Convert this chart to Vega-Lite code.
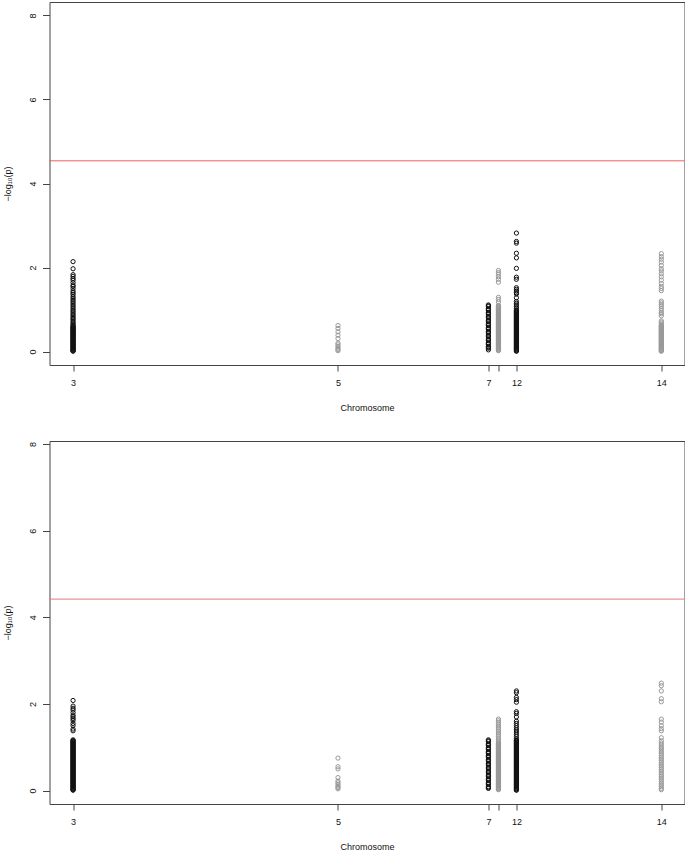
{
  "$schema": "https://vega.github.io/schema/vega-lite/v6.json",
  "padding": {"left": 2.5, "top": 1, "right": 0, "bottom": 0},
  "background": "white",
  "config": {
    "font": "Liberation Sans",
    "view": {"stroke": "#444444", "strokeWidth": 1},
    "axis": {
      "grid": false,
      "domain": false,
      "tickColor": "#444444",
      "tickSize": 7,
      "labelFont": "Liberation Sans",
      "labelFontSize": 9,
      "labelColor": "#111111",
      "titleFont": "Liberation Sans",
      "titleFontSize": 9,
      "titleFontWeight": "normal",
      "titleColor": "#111111"
    }
  },
  "datasets": {
    "chroms": [
      {"chr": "3", "pos": 37.1},
      {"chr": "5", "pos": 454.3},
      {"chr": "7", "pos": 691.2},
      {"chr": "10", "pos": 707.0},
      {"chr": "12", "pos": 735.3},
      {"chr": "14", "pos": 963.5}
    ],
    "top": [
      {"chr":"3","logp":2.14},{"chr":"3","logp":1.97},{"chr":"3","logp":1.83},{"chr":"3","logp":1.79},{"chr":"3","logp":1.74},{"chr":"3","logp":1.70},{"chr":"3","logp":1.64},{"chr":"3","logp":1.58},{"chr":"3","logp":1.55},{"chr":"3","logp":1.50},{"chr":"3","logp":1.44},{"chr":"3","logp":1.40},{"chr":"3","logp":1.36},{"chr":"3","logp":1.31},{"chr":"3","logp":1.27},{"chr":"3","logp":1.23},{"chr":"3","logp":1.19},{"chr":"3","logp":1.15},{"chr":"3","logp":1.11},{"chr":"3","logp":1.07},{"chr":"3","logp":1.03},{"chr":"3","logp":0.99},{"chr":"3","logp":0.96},{"chr":"3","logp":0.92},{"chr":"3","logp":0.88},{"chr":"3","logp":0.85},{"chr":"3","logp":0.81},{"chr":"3","logp":0.78},{"chr":"3","logp":0.75},{"chr":"3","logp":0.71},{"chr":"3","logp":0.68},{"chr":"3","logp":0.65},{"chr":"3","logp":0.62},{"chr":"3","logp":0.60},{"chr":"3","logp":0.57},{"chr":"3","logp":0.54},{"chr":"3","logp":0.51},{"chr":"3","logp":0.48},{"chr":"3","logp":0.45},{"chr":"3","logp":0.42},{"chr":"3","logp":0.39},{"chr":"3","logp":0.36},{"chr":"3","logp":0.33},{"chr":"3","logp":0.30},{"chr":"3","logp":0.27},{"chr":"3","logp":0.24},{"chr":"3","logp":0.21},{"chr":"3","logp":0.18},{"chr":"3","logp":0.15},{"chr":"3","logp":0.12},{"chr":"3","logp":0.09},{"chr":"3","logp":0.06},{"chr":"3","logp":0.03},{"chr":"3","logp":0.01},
      {"chr":"3","logp":0.015},{"chr":"3","logp":0.045},{"chr":"3","logp":0.075},{"chr":"3","logp":0.105},{"chr":"3","logp":0.135},{"chr":"3","logp":0.165},{"chr":"3","logp":0.195},{"chr":"3","logp":0.225},{"chr":"3","logp":0.255},{"chr":"3","logp":0.285},{"chr":"3","logp":0.315},{"chr":"3","logp":0.345},{"chr":"3","logp":0.375},{"chr":"3","logp":0.405},{"chr":"3","logp":0.435},{"chr":"3","logp":0.465},{"chr":"3","logp":0.495},{"chr":"3","logp":0.525},{"chr":"3","logp":0.555},{"chr":"3","logp":0.585},
      {"chr":"5","logp":0.62},{"chr":"5","logp":0.55},{"chr":"5","logp":0.47},{"chr":"5","logp":0.39},{"chr":"5","logp":0.31},{"chr":"5","logp":0.20},{"chr":"5","logp":0.16},{"chr":"5","logp":0.12},{"chr":"5","logp":0.08},{"chr":"5","logp":0.05},{"chr":"5","logp":0.02},
      {"chr":"7","logp":1.11},{"chr":"7","logp":1.07},{"chr":"7","logp":1.02},{"chr":"7","logp":0.98},{"chr":"7","logp":0.93},{"chr":"7","logp":0.89},{"chr":"7","logp":0.84},{"chr":"7","logp":0.80},{"chr":"7","logp":0.75},{"chr":"7","logp":0.71},{"chr":"7","logp":0.66},{"chr":"7","logp":0.62},{"chr":"7","logp":0.57},{"chr":"7","logp":0.53},{"chr":"7","logp":0.48},{"chr":"7","logp":0.44},{"chr":"7","logp":0.39},{"chr":"7","logp":0.35},{"chr":"7","logp":0.30},{"chr":"7","logp":0.26},{"chr":"7","logp":0.21},{"chr":"7","logp":0.17},{"chr":"7","logp":0.12},{"chr":"7","logp":0.08},{"chr":"7","logp":0.04},
      {"chr":"7","logp":0.10},{"chr":"7","logp":0.19},{"chr":"7","logp":0.28},{"chr":"7","logp":0.37},{"chr":"7","logp":0.46},{"chr":"7","logp":0.55},{"chr":"7","logp":0.64},{"chr":"7","logp":0.73},{"chr":"7","logp":0.82},{"chr":"7","logp":0.91},{"chr":"7","logp":1.00},{"chr":"7","logp":1.09},
      {"chr":"10","logp":1.93},{"chr":"10","logp":1.88},{"chr":"10","logp":1.84},{"chr":"10","logp":1.78},{"chr":"10","logp":1.72},{"chr":"10","logp":1.65},{"chr":"10","logp":1.29},{"chr":"10","logp":1.24},{"chr":"10","logp":1.18},{"chr":"10","logp":1.10},{"chr":"10","logp":1.07},{"chr":"10","logp":1.04},{"chr":"10","logp":1.01},{"chr":"10","logp":0.98},{"chr":"10","logp":0.95},{"chr":"10","logp":0.92},{"chr":"10","logp":0.89},{"chr":"10","logp":0.86},{"chr":"10","logp":0.83},{"chr":"10","logp":0.80},{"chr":"10","logp":0.77},{"chr":"10","logp":0.74},{"chr":"10","logp":0.71},{"chr":"10","logp":0.68},{"chr":"10","logp":0.65},{"chr":"10","logp":0.62},{"chr":"10","logp":0.59},{"chr":"10","logp":0.56},{"chr":"10","logp":0.53},{"chr":"10","logp":0.50},{"chr":"10","logp":0.47},{"chr":"10","logp":0.44},{"chr":"10","logp":0.41},{"chr":"10","logp":0.38},{"chr":"10","logp":0.35},{"chr":"10","logp":0.32},{"chr":"10","logp":0.29},{"chr":"10","logp":0.26},{"chr":"10","logp":0.23},{"chr":"10","logp":0.20},{"chr":"10","logp":0.17},{"chr":"10","logp":0.14},{"chr":"10","logp":0.11},{"chr":"10","logp":0.08},{"chr":"10","logp":0.05},{"chr":"10","logp":0.02},
      {"chr":"10","logp":0.035},{"chr":"10","logp":0.065},{"chr":"10","logp":0.095},{"chr":"10","logp":0.125},{"chr":"10","logp":0.155},{"chr":"10","logp":0.185},{"chr":"10","logp":0.215},{"chr":"10","logp":0.245},{"chr":"10","logp":0.275},{"chr":"10","logp":0.305},{"chr":"10","logp":0.335},{"chr":"10","logp":0.365},{"chr":"10","logp":0.395},{"chr":"10","logp":0.425},{"chr":"10","logp":0.455},{"chr":"10","logp":0.485},{"chr":"10","logp":0.515},{"chr":"10","logp":0.545},{"chr":"10","logp":0.575},{"chr":"10","logp":0.605},{"chr":"10","logp":0.635},{"chr":"10","logp":0.665},{"chr":"10","logp":0.695},{"chr":"10","logp":0.725},{"chr":"10","logp":0.755},{"chr":"10","logp":0.785},{"chr":"10","logp":0.815},{"chr":"10","logp":0.845},{"chr":"10","logp":0.875},{"chr":"10","logp":0.905},{"chr":"10","logp":0.935},{"chr":"10","logp":0.965},{"chr":"10","logp":0.995},{"chr":"10","logp":1.025},{"chr":"10","logp":1.055},{"chr":"10","logp":1.085},
      {"chr":"12","logp":2.82},{"chr":"12","logp":2.62},{"chr":"12","logp":2.58},{"chr":"12","logp":2.34},{"chr":"12","logp":2.23},{"chr":"12","logp":1.98},{"chr":"12","logp":1.77},{"chr":"12","logp":1.72},{"chr":"12","logp":1.52},{"chr":"12","logp":1.48},{"chr":"12","logp":1.44},{"chr":"12","logp":1.40},{"chr":"12","logp":1.37},{"chr":"12","logp":1.28},{"chr":"12","logp":1.19},{"chr":"12","logp":1.15},{"chr":"12","logp":1.11},{"chr":"12","logp":1.07},{"chr":"12","logp":1.03},{"chr":"12","logp":0.99},{"chr":"12","logp":0.96},{"chr":"12","logp":0.93},{"chr":"12","logp":0.90},{"chr":"12","logp":0.87},{"chr":"12","logp":0.84},{"chr":"12","logp":0.81},{"chr":"12","logp":0.78},{"chr":"12","logp":0.75},{"chr":"12","logp":0.72},{"chr":"12","logp":0.69},{"chr":"12","logp":0.66},{"chr":"12","logp":0.63},{"chr":"12","logp":0.60},{"chr":"12","logp":0.57},{"chr":"12","logp":0.54},{"chr":"12","logp":0.51},{"chr":"12","logp":0.48},{"chr":"12","logp":0.45},{"chr":"12","logp":0.42},{"chr":"12","logp":0.39},{"chr":"12","logp":0.36},{"chr":"12","logp":0.33},{"chr":"12","logp":0.30},{"chr":"12","logp":0.27},{"chr":"12","logp":0.24},{"chr":"12","logp":0.21},{"chr":"12","logp":0.18},{"chr":"12","logp":0.15},{"chr":"12","logp":0.12},{"chr":"12","logp":0.09},{"chr":"12","logp":0.06},{"chr":"12","logp":0.03},{"chr":"12","logp":0.01},
      {"chr":"12","logp":0.015},{"chr":"12","logp":0.045},{"chr":"12","logp":0.075},{"chr":"12","logp":0.105},{"chr":"12","logp":0.135},{"chr":"12","logp":0.165},{"chr":"12","logp":0.195},{"chr":"12","logp":0.225},{"chr":"12","logp":0.255},{"chr":"12","logp":0.285},{"chr":"12","logp":0.315},{"chr":"12","logp":0.345},{"chr":"12","logp":0.375},{"chr":"12","logp":0.405},{"chr":"12","logp":0.435},{"chr":"12","logp":0.465},{"chr":"12","logp":0.495},{"chr":"12","logp":0.525},{"chr":"12","logp":0.555},{"chr":"12","logp":0.585},{"chr":"12","logp":0.615},{"chr":"12","logp":0.645},{"chr":"12","logp":0.675},{"chr":"12","logp":0.705},{"chr":"12","logp":0.735},{"chr":"12","logp":0.765},{"chr":"12","logp":0.795},{"chr":"12","logp":0.825},{"chr":"12","logp":0.855},{"chr":"12","logp":0.885},{"chr":"12","logp":0.915},{"chr":"12","logp":0.945},{"chr":"12","logp":0.975},
      {"chr":"14","logp":2.33},{"chr":"14","logp":2.26},{"chr":"14","logp":2.20},{"chr":"14","logp":2.13},{"chr":"14","logp":2.05},{"chr":"14","logp":1.97},{"chr":"14","logp":1.92},{"chr":"14","logp":1.85},{"chr":"14","logp":1.78},{"chr":"14","logp":1.70},{"chr":"14","logp":1.62},{"chr":"14","logp":1.55},{"chr":"14","logp":1.50},{"chr":"14","logp":1.45},{"chr":"14","logp":1.20},{"chr":"14","logp":1.16},{"chr":"14","logp":1.12},{"chr":"14","logp":1.08},{"chr":"14","logp":1.03},{"chr":"14","logp":0.98},{"chr":"14","logp":0.93},{"chr":"14","logp":0.90},{"chr":"14","logp":0.85},{"chr":"14","logp":0.73},{"chr":"14","logp":0.70},{"chr":"14","logp":0.66},{"chr":"14","logp":0.63},{"chr":"14","logp":0.60},{"chr":"14","logp":0.57},{"chr":"14","logp":0.54},{"chr":"14","logp":0.51},{"chr":"14","logp":0.48},{"chr":"14","logp":0.45},{"chr":"14","logp":0.42},{"chr":"14","logp":0.39},{"chr":"14","logp":0.36},{"chr":"14","logp":0.33},{"chr":"14","logp":0.30},{"chr":"14","logp":0.27},{"chr":"14","logp":0.24},{"chr":"14","logp":0.21},{"chr":"14","logp":0.18},{"chr":"14","logp":0.15},{"chr":"14","logp":0.12},{"chr":"14","logp":0.09},{"chr":"14","logp":0.06},{"chr":"14","logp":0.03},{"chr":"14","logp":0.01},
      {"chr":"14","logp":0.015},{"chr":"14","logp":0.045},{"chr":"14","logp":0.075},{"chr":"14","logp":0.105},{"chr":"14","logp":0.135},{"chr":"14","logp":0.165},{"chr":"14","logp":0.195},{"chr":"14","logp":0.225},{"chr":"14","logp":0.255},{"chr":"14","logp":0.285},{"chr":"14","logp":0.315},{"chr":"14","logp":0.345},{"chr":"14","logp":0.375},{"chr":"14","logp":0.405},{"chr":"14","logp":0.435},{"chr":"14","logp":0.465},{"chr":"14","logp":0.495},{"chr":"14","logp":0.525},{"chr":"14","logp":0.555},{"chr":"14","logp":0.585},{"chr":"14","logp":0.615}
    ],
    "bottom": [
      {"chr":"3","logp":2.08},{"chr":"3","logp":1.95},{"chr":"3","logp":1.90},{"chr":"3","logp":1.86},{"chr":"3","logp":1.80},{"chr":"3","logp":1.74},{"chr":"3","logp":1.70},{"chr":"3","logp":1.66},{"chr":"3","logp":1.62},{"chr":"3","logp":1.55},{"chr":"3","logp":1.50},{"chr":"3","logp":1.42},{"chr":"3","logp":1.38},{"chr":"3","logp":1.17},{"chr":"3","logp":1.14},{"chr":"3","logp":1.11},{"chr":"3","logp":1.08},{"chr":"3","logp":1.05},{"chr":"3","logp":1.02},{"chr":"3","logp":0.99},{"chr":"3","logp":0.96},{"chr":"3","logp":0.93},{"chr":"3","logp":0.90},{"chr":"3","logp":0.87},{"chr":"3","logp":0.84},{"chr":"3","logp":0.81},{"chr":"3","logp":0.78},{"chr":"3","logp":0.75},{"chr":"3","logp":0.72},{"chr":"3","logp":0.69},{"chr":"3","logp":0.66},{"chr":"3","logp":0.63},{"chr":"3","logp":0.60},{"chr":"3","logp":0.57},{"chr":"3","logp":0.54},{"chr":"3","logp":0.51},{"chr":"3","logp":0.48},{"chr":"3","logp":0.45},{"chr":"3","logp":0.42},{"chr":"3","logp":0.39},{"chr":"3","logp":0.36},{"chr":"3","logp":0.33},{"chr":"3","logp":0.30},{"chr":"3","logp":0.27},{"chr":"3","logp":0.24},{"chr":"3","logp":0.21},{"chr":"3","logp":0.18},{"chr":"3","logp":0.15},{"chr":"3","logp":0.12},{"chr":"3","logp":0.09},{"chr":"3","logp":0.06},{"chr":"3","logp":0.03},{"chr":"3","logp":0.01},
      {"chr":"3","logp":0.015},{"chr":"3","logp":0.045},{"chr":"3","logp":0.075},{"chr":"3","logp":0.105},{"chr":"3","logp":0.135},{"chr":"3","logp":0.165},{"chr":"3","logp":0.195},{"chr":"3","logp":0.225},{"chr":"3","logp":0.255},{"chr":"3","logp":0.285},{"chr":"3","logp":0.315},{"chr":"3","logp":0.345},{"chr":"3","logp":0.375},{"chr":"3","logp":0.405},{"chr":"3","logp":0.435},{"chr":"3","logp":0.465},{"chr":"3","logp":0.495},{"chr":"3","logp":0.525},{"chr":"3","logp":0.555},{"chr":"3","logp":0.585},{"chr":"3","logp":0.615},{"chr":"3","logp":0.645},{"chr":"3","logp":0.675},{"chr":"3","logp":0.705},{"chr":"3","logp":0.735},{"chr":"3","logp":0.765},{"chr":"3","logp":0.795},{"chr":"3","logp":0.825},{"chr":"3","logp":0.855},{"chr":"3","logp":0.885},{"chr":"3","logp":0.915},{"chr":"3","logp":0.945},{"chr":"3","logp":0.975},{"chr":"3","logp":1.005},{"chr":"3","logp":1.035},{"chr":"3","logp":1.065},{"chr":"3","logp":1.095},{"chr":"3","logp":1.125},{"chr":"3","logp":1.155},
      {"chr":"5","logp":0.75},{"chr":"5","logp":0.55},{"chr":"5","logp":0.50},{"chr":"5","logp":0.30},{"chr":"5","logp":0.22},{"chr":"5","logp":0.18},{"chr":"5","logp":0.14},{"chr":"5","logp":0.10},{"chr":"5","logp":0.07},{"chr":"5","logp":0.04},
      {"chr":"7","logp":1.17},{"chr":"7","logp":1.13},{"chr":"7","logp":1.08},{"chr":"7","logp":1.04},{"chr":"7","logp":0.99},{"chr":"7","logp":0.95},{"chr":"7","logp":0.90},{"chr":"7","logp":0.86},{"chr":"7","logp":0.81},{"chr":"7","logp":0.77},{"chr":"7","logp":0.72},{"chr":"7","logp":0.68},{"chr":"7","logp":0.63},{"chr":"7","logp":0.59},{"chr":"7","logp":0.54},{"chr":"7","logp":0.50},{"chr":"7","logp":0.45},{"chr":"7","logp":0.41},{"chr":"7","logp":0.36},{"chr":"7","logp":0.32},{"chr":"7","logp":0.27},{"chr":"7","logp":0.23},{"chr":"7","logp":0.18},{"chr":"7","logp":0.14},{"chr":"7","logp":0.09},{"chr":"7","logp":0.05},
      {"chr":"7","logp":0.07},{"chr":"7","logp":0.16},{"chr":"7","logp":0.25},{"chr":"7","logp":0.34},{"chr":"7","logp":0.43},{"chr":"7","logp":0.52},{"chr":"7","logp":0.61},{"chr":"7","logp":0.70},{"chr":"7","logp":0.79},{"chr":"7","logp":0.88},{"chr":"7","logp":0.97},{"chr":"7","logp":1.06},{"chr":"7","logp":1.15},
      {"chr":"10","logp":1.65},{"chr":"10","logp":1.61},{"chr":"10","logp":1.57},{"chr":"10","logp":1.53},{"chr":"10","logp":1.49},{"chr":"10","logp":1.45},{"chr":"10","logp":1.41},{"chr":"10","logp":1.37},{"chr":"10","logp":1.33},{"chr":"10","logp":1.29},{"chr":"10","logp":1.25},{"chr":"10","logp":1.21},{"chr":"10","logp":1.17},{"chr":"10","logp":1.13},{"chr":"10","logp":1.10},{"chr":"10","logp":1.07},{"chr":"10","logp":1.04},{"chr":"10","logp":1.01},{"chr":"10","logp":0.98},{"chr":"10","logp":0.95},{"chr":"10","logp":0.92},{"chr":"10","logp":0.89},{"chr":"10","logp":0.86},{"chr":"10","logp":0.83},{"chr":"10","logp":0.80},{"chr":"10","logp":0.77},{"chr":"10","logp":0.74},{"chr":"10","logp":0.71},{"chr":"10","logp":0.68},{"chr":"10","logp":0.65},{"chr":"10","logp":0.62},{"chr":"10","logp":0.59},{"chr":"10","logp":0.56},{"chr":"10","logp":0.53},{"chr":"10","logp":0.50},{"chr":"10","logp":0.47},{"chr":"10","logp":0.44},{"chr":"10","logp":0.41},{"chr":"10","logp":0.38},{"chr":"10","logp":0.35},{"chr":"10","logp":0.32},{"chr":"10","logp":0.29},{"chr":"10","logp":0.26},{"chr":"10","logp":0.23},{"chr":"10","logp":0.20},{"chr":"10","logp":0.17},{"chr":"10","logp":0.14},{"chr":"10","logp":0.11},{"chr":"10","logp":0.08},{"chr":"10","logp":0.05},{"chr":"10","logp":0.02},
      {"chr":"10","logp":0.035},{"chr":"10","logp":0.065},{"chr":"10","logp":0.095},{"chr":"10","logp":0.125},{"chr":"10","logp":0.155},{"chr":"10","logp":0.185},{"chr":"10","logp":0.215},{"chr":"10","logp":0.245},{"chr":"10","logp":0.275},{"chr":"10","logp":0.305},{"chr":"10","logp":0.335},{"chr":"10","logp":0.365},{"chr":"10","logp":0.395},{"chr":"10","logp":0.425},{"chr":"10","logp":0.455},{"chr":"10","logp":0.485},{"chr":"10","logp":0.515},{"chr":"10","logp":0.545},{"chr":"10","logp":0.575},{"chr":"10","logp":0.605},{"chr":"10","logp":0.635},{"chr":"10","logp":0.665},{"chr":"10","logp":0.695},{"chr":"10","logp":0.725},{"chr":"10","logp":0.755},{"chr":"10","logp":0.785},{"chr":"10","logp":0.815},{"chr":"10","logp":0.845},{"chr":"10","logp":0.875},{"chr":"10","logp":0.905},{"chr":"10","logp":0.935},{"chr":"10","logp":0.965},{"chr":"10","logp":0.995},{"chr":"10","logp":1.025},{"chr":"10","logp":1.055},{"chr":"10","logp":1.085},
      {"chr":"12","logp":2.30},{"chr":"12","logp":2.26},{"chr":"12","logp":2.15},{"chr":"12","logp":2.10},{"chr":"12","logp":2.04},{"chr":"12","logp":1.82},{"chr":"12","logp":1.78},{"chr":"12","logp":1.70},{"chr":"12","logp":1.60},{"chr":"12","logp":1.55},{"chr":"12","logp":1.50},{"chr":"12","logp":1.45},{"chr":"12","logp":1.40},{"chr":"12","logp":1.35},{"chr":"12","logp":1.30},{"chr":"12","logp":1.25},{"chr":"12","logp":1.20},{"chr":"12","logp":1.17},{"chr":"12","logp":1.14},{"chr":"12","logp":1.11},{"chr":"12","logp":1.08},{"chr":"12","logp":1.05},{"chr":"12","logp":1.02},{"chr":"12","logp":0.99},{"chr":"12","logp":0.96},{"chr":"12","logp":0.93},{"chr":"12","logp":0.90},{"chr":"12","logp":0.87},{"chr":"12","logp":0.84},{"chr":"12","logp":0.81},{"chr":"12","logp":0.78},{"chr":"12","logp":0.75},{"chr":"12","logp":0.72},{"chr":"12","logp":0.69},{"chr":"12","logp":0.66},{"chr":"12","logp":0.63},{"chr":"12","logp":0.60},{"chr":"12","logp":0.57},{"chr":"12","logp":0.54},{"chr":"12","logp":0.51},{"chr":"12","logp":0.48},{"chr":"12","logp":0.45},{"chr":"12","logp":0.42},{"chr":"12","logp":0.39},{"chr":"12","logp":0.36},{"chr":"12","logp":0.33},{"chr":"12","logp":0.30},{"chr":"12","logp":0.27},{"chr":"12","logp":0.24},{"chr":"12","logp":0.21},{"chr":"12","logp":0.18},{"chr":"12","logp":0.15},{"chr":"12","logp":0.12},{"chr":"12","logp":0.09},{"chr":"12","logp":0.06},{"chr":"12","logp":0.03},{"chr":"12","logp":0.01},
      {"chr":"12","logp":0.015},{"chr":"12","logp":0.045},{"chr":"12","logp":0.075},{"chr":"12","logp":0.105},{"chr":"12","logp":0.135},{"chr":"12","logp":0.165},{"chr":"12","logp":0.195},{"chr":"12","logp":0.225},{"chr":"12","logp":0.255},{"chr":"12","logp":0.285},{"chr":"12","logp":0.315},{"chr":"12","logp":0.345},{"chr":"12","logp":0.375},{"chr":"12","logp":0.405},{"chr":"12","logp":0.435},{"chr":"12","logp":0.465},{"chr":"12","logp":0.495},{"chr":"12","logp":0.525},{"chr":"12","logp":0.555},{"chr":"12","logp":0.585},{"chr":"12","logp":0.615},{"chr":"12","logp":0.645},{"chr":"12","logp":0.675},{"chr":"12","logp":0.705},{"chr":"12","logp":0.735},{"chr":"12","logp":0.765},{"chr":"12","logp":0.795},{"chr":"12","logp":0.825},{"chr":"12","logp":0.855},{"chr":"12","logp":0.885},{"chr":"12","logp":0.915},{"chr":"12","logp":0.945},{"chr":"12","logp":0.975},{"chr":"12","logp":1.005},{"chr":"12","logp":1.035},{"chr":"12","logp":1.065},{"chr":"12","logp":1.095},{"chr":"12","logp":1.125},{"chr":"12","logp":1.155},
      {"chr":"14","logp":2.48},{"chr":"14","logp":2.42},{"chr":"14","logp":2.30},{"chr":"14","logp":2.12},{"chr":"14","logp":2.05},{"chr":"14","logp":1.65},{"chr":"14","logp":1.58},{"chr":"14","logp":1.50},{"chr":"14","logp":1.43},{"chr":"14","logp":1.38},{"chr":"14","logp":1.22},{"chr":"14","logp":1.15},{"chr":"14","logp":1.10},{"chr":"14","logp":1.05},{"chr":"14","logp":1.00},{"chr":"14","logp":0.97},{"chr":"14","logp":0.93},{"chr":"14","logp":0.89},{"chr":"14","logp":0.85},{"chr":"14","logp":0.81},{"chr":"14","logp":0.77},{"chr":"14","logp":0.73},{"chr":"14","logp":0.69},{"chr":"14","logp":0.65},{"chr":"14","logp":0.61},{"chr":"14","logp":0.57},{"chr":"14","logp":0.53},{"chr":"14","logp":0.49},{"chr":"14","logp":0.45},{"chr":"14","logp":0.41},{"chr":"14","logp":0.37},{"chr":"14","logp":0.33},{"chr":"14","logp":0.29},{"chr":"14","logp":0.25},{"chr":"14","logp":0.21},{"chr":"14","logp":0.17},{"chr":"14","logp":0.13},{"chr":"14","logp":0.09},{"chr":"14","logp":0.05},{"chr":"14","logp":0.02}
    ]
  },
  "spacing": 76,
  "bounds": "flush",
  "vconcat": [
    {
      "width": 635,
      "height": 363,
      "layer": [
        {
          "data": {"name": "top"},
          "transform": [{"lookup": "chr", "from": {"data": {"name": "chroms"}, "key": "chr", "fields": ["pos"]}}],
          "mark": {"type": "point", "shape": "circle", "filled": false, "size": 18, "strokeWidth": 1, "opacity": 1},
          "encoding": {
            "x": {"field": "pos", "type": "quantitative", "scale": {"domain": [0, 1000], "nice": false, "zero": false},
              "axis": {"title": "Chromosome", "values": [37.1, 454.3, 691.2, 707.0, 735.3, 963.5], "labelExpr": "datum.value < 100 ? '3' : datum.value < 500 ? '5' : datum.value < 700 ? '7' : datum.value < 720 ? '' : datum.value < 800 ? '12' : '14'", "labelPadding": 7, "titlePadding": 16, "tickSize": 6}},
            "y": {"field": "logp", "type": "quantitative", "scale": {"domain": [-0.32, 8.32], "nice": false, "zero": false},
              "axis": {"title": "−log₁₀(p)", "values": [0, 2, 4, 6, 8], "labelAngle": 270, "labelAlign": "center", "labelBaseline": "bottom", "labelPadding": 5, "titlePadding": 16}},
            "color": {"field": "chr", "type": "nominal", "scale": {"domain": ["3", "5", "7", "10", "12", "14"], "range": ["#111111", "#999999", "#111111", "#999999", "#111111", "#999999"]}, "legend": null}
          }
        },
        {
          "data": {"values": [{"threshold": 4.54}]},
          "mark": {"type": "rule", "color": "#ef5f5f", "strokeWidth": 1},
          "encoding": {"y": {"field": "threshold", "type": "quantitative"}}
        }
      ]
    },
    {
      "width": 635,
      "height": 363,
      "layer": [
        {
          "data": {"name": "bottom"},
          "transform": [{"lookup": "chr", "from": {"data": {"name": "chroms"}, "key": "chr", "fields": ["pos"]}}],
          "mark": {"type": "point", "shape": "circle", "filled": false, "size": 18, "strokeWidth": 1, "opacity": 1},
          "encoding": {
            "x": {"field": "pos", "type": "quantitative", "scale": {"domain": [0, 1000], "nice": false, "zero": false},
              "axis": {"title": "Chromosome", "values": [37.1, 454.3, 691.2, 707.0, 735.3, 963.5], "labelExpr": "datum.value < 100 ? '3' : datum.value < 500 ? '5' : datum.value < 700 ? '7' : datum.value < 720 ? '' : datum.value < 800 ? '12' : '14'", "labelPadding": 7, "titlePadding": 16, "tickSize": 6}},
            "y": {"field": "logp", "type": "quantitative", "scale": {"domain": [-0.31, 8.07], "nice": false, "zero": false},
              "axis": {"title": "−log₁₀(p)", "values": [0, 2, 4, 6, 8], "labelAngle": 270, "labelAlign": "center", "labelBaseline": "bottom", "labelPadding": 5, "titlePadding": 16}},
            "color": {"field": "chr", "type": "nominal", "scale": {"domain": ["3", "5", "7", "10", "12", "14"], "range": ["#111111", "#999999", "#111111", "#999999", "#111111", "#999999"]}, "legend": null}
          }
        },
        {
          "data": {"values": [{"threshold": 4.42}]},
          "mark": {"type": "rule", "color": "#e47a7a", "strokeWidth": 1},
          "encoding": {"y": {"field": "threshold", "type": "quantitative"}}
        }
      ]
    }
  ]
}
